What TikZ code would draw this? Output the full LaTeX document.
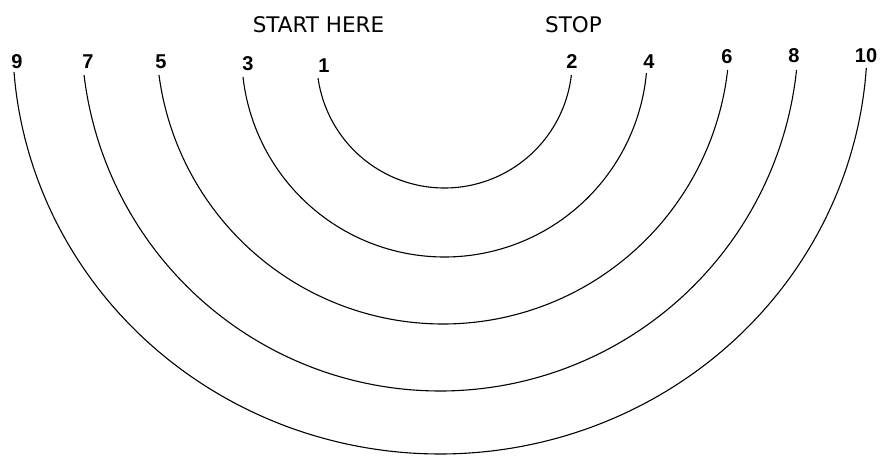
\documentclass[tikz,border=0pt]{standalone}
\usepackage{fontspec}
\setmainfont{DejaVu Sans}
\newfontfamily\numfont{Liberation Sans}
\begin{document}
\begin{tikzpicture}[x=1pt,y=-1pt,
  numlabel/.style={font=\numfont\bfseries\fontsize{20}{20}\selectfont, inner sep=0pt, anchor=base},
  toplabel/.style={font=\fontsize{21.5}{21.5}\selectfont, inner sep=0pt, anchor=base},
  ring/.style={line width=1.1pt, black}]
\useasboundingbox (0,0) rectangle (880,456);
\fill[white] (0,0) rectangle (880,456);
% titles
\node[toplabel] (start) at (318.5,32) {START HERE};
\node[toplabel] (stop) at (573.5,32) {STOP};
% number labels
\node[numlabel] (n1) at (324,72) {1};
\node[numlabel] (n3) at (248,70) {3};
\node[numlabel] (n5) at (161,68) {5};
\node[numlabel] (n7) at (88,68) {7};
\node[numlabel] (n9) at (17,68) {9};
\node[numlabel] (n2) at (572,68) {2};
\node[numlabel] (n4) at (649,68) {4};
\node[numlabel] (n6) at (727,63) {6};
\node[numlabel] (n8) at (794,62) {8};
\node[numlabel] (n10) at (866,62) {10};
% arcs: left end y, right end y, centre x, centre y, x radius, y radius
\foreach \i/\yl/\yr/\cx/\cy/\ra/\rb in {
  1/78/75/444.5/60.3/127.7/127.7,
  2/77/73/444.5/54.2/202.8/202.8,
  3/75/70/443/37.5/286.5/286.5,
  4/75/70/440/32.5/358.5/358.5,
  5/72/68/440/40/427.3/414}{
  \pgfmathsetmacro\sa{180-asin((\yl-\cy)/\rb)}
  \pgfmathsetmacro\ea{asin((\yr-\cy)/\rb)}
  \coordinate (C\i) at (\cx,\cy);
  \draw[ring] plot[domain=\sa:\ea, samples=150, smooth] ({\cx+\ra*cos(\x)},{\cy+\rb*sin(\x)});
}
\end{tikzpicture}
\end{document}
